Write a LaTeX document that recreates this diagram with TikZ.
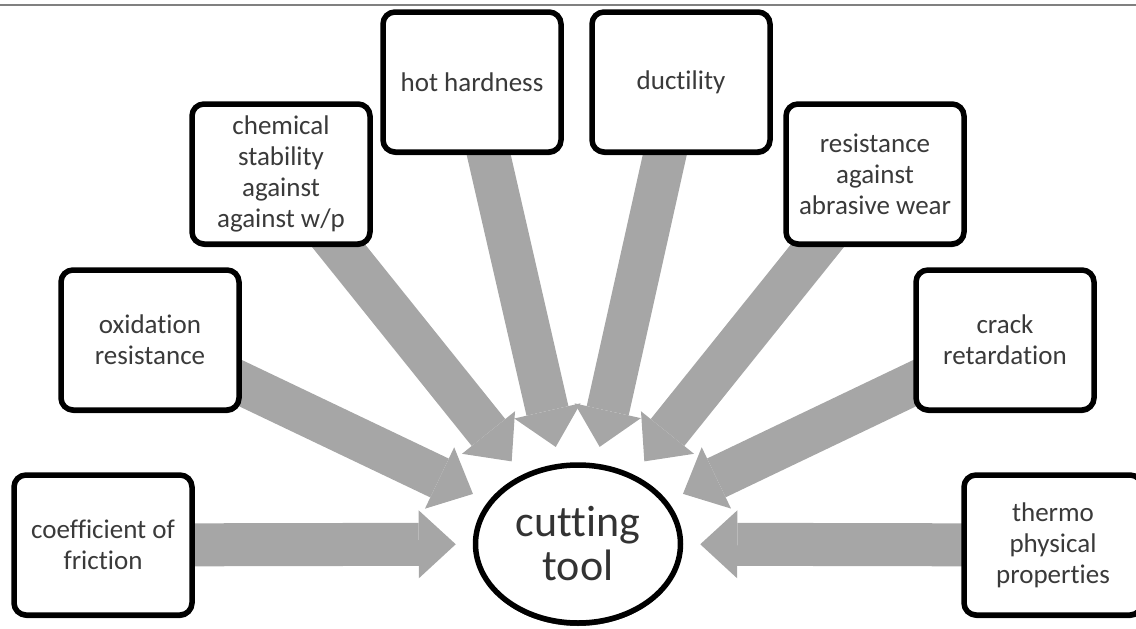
\documentclass[tikz,border=0pt]{standalone}
\usepackage{fontspec}
\setmainfont{Carlito}[Ligatures=NoCommon]
\usepackage{tikz}
\usetikzlibrary{arrows.meta}
\usetikzlibrary{shapes.geometric}
\usetikzlibrary{shadows}
\usetikzlibrary{backgrounds}
\definecolor{flowgray}{HTML}{A6A6A6}
\definecolor{textgray}{HTML}{3A3A3A}
\tikzset{
    tnode/.style = {align=center, inner sep=0pt, text centered},
    prop/.style = {tnode, rectangle, rounded corners=12pt, draw=black, line width=5.5pt, fill=white,
        minimum width=178pt, minimum height=140pt, text=textgray, font=\fontsize{27}{31}\selectfont,
        drop shadow={shadow xshift=0.5pt, shadow yshift=-3pt, fill=black, opacity=0.8}},
    tool/.style = {tnode, ellipse, draw=black, line width=5.5pt, fill=white,
        minimum width=205pt, minimum height=158pt, text=black!80, font=\fontsize{44}{44}\selectfont,
        drop shadow={shadow xshift=0pt, shadow yshift=-3pt, fill=black, opacity=0.8}},
    flow/.style = {draw=flowgray, line width=43pt, -{Triangle[length=37pt, width=68pt, line width=0pt]}, shorten >=17pt}
}
\begin{document}
\begin{tikzpicture}[x=1pt, y=-1pt]
    \useasboundingbox (0,0) rectangle (1136,629);
    \draw[gray, line width=1.5pt] (0,5) -- (1136,5);

    \node[tool] (tool) at (578,544) {cutting\\tool};

    \node[prop] (coef)   at (103,545)  {coefficient of\\friction};
    \node[prop] (oxid)   at (150,340)  {oxidation\\resistance};
    \node[prop] (chem)   at (281,174)  {chemical\\stability\\against\\against w/p};
    \node[prop] (hot)    at (472,82)   {hot hardness};
    \node[prop] (duct)   at (681,82)   {ductility};
    \node[prop] (abras)  at (875,174)  {resistance\\against\\abrasive wear};
    \node[prop] (crack)  at (1005,340) {crack\\retardation};
    \node[prop] (thermo) at (1053,545) {thermo\\physical\\properties};

    \begin{scope}[on background layer]
        \foreach \src in {coef, oxid, chem, hot, duct, abras, crack, thermo}
            \draw[flow] (\src.center) -- (tool);
    \end{scope}
\end{tikzpicture}
\end{document}
